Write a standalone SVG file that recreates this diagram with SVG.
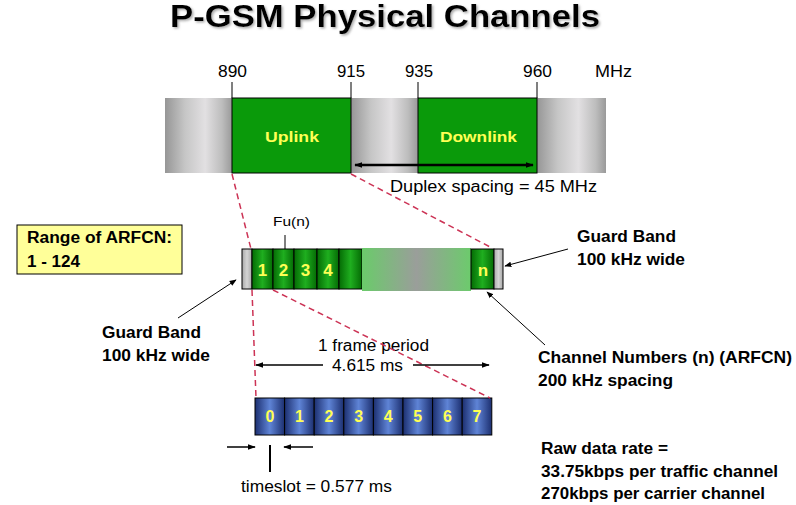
<svg xmlns="http://www.w3.org/2000/svg" width="796" height="505" viewBox="0 0 796 505">
<defs>
<style>
text{font-family:"Liberation Sans",Arial,sans-serif;fill:#000}
.b{font-weight:bold}
.y{fill:#ffff55;font-weight:bold}
.tick{stroke:#000;stroke-width:1}
.red{stroke:#cc3355;stroke-width:1.5;stroke-dasharray:6 4;fill:none}
.ln{stroke:#000;fill:none}
.cell{stroke:#000;stroke-width:1}
</style>
<linearGradient id="gray" x1="0" x2="1" y1="0" y2="0">
<stop offset="0" stop-color="#969696"/>
<stop offset="0.3" stop-color="#c6c6c6"/>
<stop offset="0.6" stop-color="#e2e0e2"/>
<stop offset="0.85" stop-color="#bdbdbd"/>
<stop offset="1" stop-color="#9a9a9a"/>
</linearGradient>
<linearGradient id="chan" x1="0" x2="1" y1="0" y2="0">
<stop offset="0" stop-color="#046b04"/>
<stop offset="0.5" stop-color="#1fae1f"/>
<stop offset="1" stop-color="#046b04"/>
</linearGradient>
<linearGradient id="mid" x1="0" x2="1" y1="0" y2="0">
<stop offset="0" stop-color="#6acb6a"/>
<stop offset="0.5" stop-color="#9a9e9a"/>
<stop offset="1" stop-color="#6ccb6c"/>
</linearGradient>
<linearGradient id="blue" x1="0" x2="1" y1="0" y2="0">
<stop offset="0" stop-color="#1c2f70"/>
<stop offset="0.5" stop-color="#5f84d6"/>
<stop offset="1" stop-color="#1c2f70"/>
</linearGradient>
<linearGradient id="gb" x1="0" x2="1" y1="0" y2="0">
<stop offset="0" stop-color="#a8a8a8"/>
<stop offset="0.5" stop-color="#d4d4d4"/>
<stop offset="1" stop-color="#a8a8a8"/>
</linearGradient>
<marker id="ah" viewBox="0 0 10 10" refX="9" refY="5" markerWidth="7" markerHeight="7" orient="auto-start-reverse" markerUnits="userSpaceOnUse">
<path d="M0,1 L10,5 L0,9 Z" fill="#000"/>
</marker>
<marker id="ahs" viewBox="0 0 10 10" refX="9" refY="5" markerWidth="8" markerHeight="8" orient="auto-start-reverse" markerUnits="userSpaceOnUse">
<path d="M0,1.5 L10,5 L0,8.5 Z" fill="#000"/>
</marker>
<filter id="sh" x="-5%" y="-20%" width="110%" height="150%">
<feDropShadow dx="1.5" dy="1.5" stdDeviation="0.8" flood-color="#888" flood-opacity="0.7"/>
</filter>
</defs>
<rect width="796" height="505" fill="#fff"/>

<g id="title">
<text x="170" y="27" class="b" font-size="31" textLength="430" lengthAdjust="spacingAndGlyphs" filter="url(#sh)">P-GSM Physical Channels</text>
</g>

<g id="band">
<rect x="165" y="98" width="67" height="75" fill="url(#gray)"/>
<rect x="351" y="98" width="67" height="75" fill="url(#gray)"/>
<rect x="537" y="98" width="69" height="75" fill="url(#gray)"/>
<rect id="uplink" x="232" y="98" width="119" height="75" fill="#0a9a0a" stroke="#000"/>
<rect id="downlink" x="418" y="98" width="119" height="75" fill="#0a9a0a" stroke="#000"/>
<text x="265" y="142" class="y" font-size="15.5" textLength="54" lengthAdjust="spacingAndGlyphs">Uplink</text>
<text x="440" y="142" class="y" font-size="15.5" textLength="77" lengthAdjust="spacingAndGlyphs">Downlink</text>
<line class="tick" x1="232" y1="82" x2="232" y2="98"/>
<line class="tick" x1="351" y1="82" x2="351" y2="98"/>
<line class="tick" x1="418" y1="82" x2="418" y2="98"/>
<line class="tick" x1="537" y1="82" x2="537" y2="98"/>
<text x="218" y="77" font-size="16" textLength="29" lengthAdjust="spacingAndGlyphs">890</text>
<text x="337" y="77" font-size="16" textLength="28" lengthAdjust="spacingAndGlyphs">915</text>
<text x="405" y="77" font-size="16" textLength="28" lengthAdjust="spacingAndGlyphs">935</text>
<text x="523" y="77" font-size="16" textLength="29" lengthAdjust="spacingAndGlyphs">960</text>
<text x="595" y="77" font-size="16" textLength="37" lengthAdjust="spacingAndGlyphs">MHz</text>
<text x="390" y="192" font-size="16" textLength="207" lengthAdjust="spacingAndGlyphs">Duplex spacing = 45 MHz</text>
</g>

<g id="arfcn-box">
<rect x="17" y="225" width="165" height="49" fill="#ffff99" stroke="#000"/>
<text x="27" y="243" class="b" font-size="16" textLength="145" lengthAdjust="spacingAndGlyphs">Range of ARFCN:</text>
<text x="27" y="267" class="b" font-size="16" textLength="53" lengthAdjust="spacingAndGlyphs">1 - 124</text>
</g>

<g id="channels">
<rect class="cell" x="242" y="249" width="10" height="40" fill="url(#gb)"/>
<rect class="cell" x="252" y="249" width="21" height="40" fill="url(#chan)"/>
<rect class="cell" x="273" y="249" width="21" height="40" fill="url(#chan)"/>
<rect class="cell" x="294" y="249" width="23" height="40" fill="url(#chan)"/>
<rect class="cell" x="317" y="249" width="22" height="40" fill="url(#chan)"/>
<rect class="cell" x="339" y="249" width="23" height="40" fill="url(#chan)"/>
<rect x="362" y="248" width="109" height="43" fill="url(#mid)"/>
<rect class="cell" x="471" y="249" width="23" height="40" fill="url(#chan)"/>
<rect class="cell" x="494" y="249" width="9" height="40" fill="url(#gb)"/>
<text x="262.5" y="276" class="y" font-size="17" text-anchor="middle">1</text>
<text x="283.5" y="276" class="y" font-size="17" text-anchor="middle">2</text>
<text x="305.5" y="276" class="y" font-size="17" text-anchor="middle">3</text>
<text x="328" y="276" class="y" font-size="17" text-anchor="middle">4</text>
<text x="483" y="276" class="y" font-size="17" text-anchor="middle">n</text>
<line class="ln" x1="285" y1="235" x2="285" y2="249"/>
<text x="273" y="226" font-size="13" textLength="37" lengthAdjust="spacingAndGlyphs">Fu(n)</text>
</g>

<g id="timeslots">
<rect class="cell" x="255" y="398" width="29.6" height="37" fill="url(#blue)"/>
<rect class="cell" x="284.6" y="398" width="29.6" height="37" fill="url(#blue)"/>
<rect class="cell" x="314.2" y="398" width="29.6" height="37" fill="url(#blue)"/>
<rect class="cell" x="343.8" y="398" width="29.6" height="37" fill="url(#blue)"/>
<rect class="cell" x="373.4" y="398" width="29.6" height="37" fill="url(#blue)"/>
<rect class="cell" x="403" y="398" width="29.6" height="37" fill="url(#blue)"/>
<rect class="cell" x="432.6" y="398" width="29.6" height="37" fill="url(#blue)"/>
<rect class="cell" x="462.2" y="398" width="29.6" height="37" fill="url(#blue)"/>
<text x="270" y="422" class="y" font-size="16" text-anchor="middle">0</text>
<text x="299.4" y="422" class="y" font-size="16" text-anchor="middle">1</text>
<text x="329" y="422" class="y" font-size="16" text-anchor="middle">2</text>
<text x="358.6" y="422" class="y" font-size="16" text-anchor="middle">3</text>
<text x="388.2" y="422" class="y" font-size="16" text-anchor="middle">4</text>
<text x="417.8" y="422" class="y" font-size="16" text-anchor="middle">5</text>
<text x="447.4" y="422" class="y" font-size="16" text-anchor="middle">6</text>
<text x="477" y="422" class="y" font-size="16" text-anchor="middle">7</text>
</g>

<g id="labels">
<text x="102" y="338" class="b" font-size="16.5" textLength="99" lengthAdjust="spacingAndGlyphs">Guard Band</text>
<text x="102" y="361" class="b" font-size="16.5" textLength="108" lengthAdjust="spacingAndGlyphs">100 kHz wide</text>
<text x="577" y="242" class="b" font-size="16.5" textLength="99" lengthAdjust="spacingAndGlyphs">Guard Band</text>
<text x="577" y="265" class="b" font-size="16.5" textLength="108" lengthAdjust="spacingAndGlyphs">100 kHz wide</text>
<text x="538" y="363" class="b" font-size="16.5" textLength="254" lengthAdjust="spacingAndGlyphs">Channel Numbers (n) (ARFCN)</text>
<text x="538" y="386" class="b" font-size="16.5" textLength="135" lengthAdjust="spacingAndGlyphs">200 kHz spacing</text>
<text x="541" y="454" class="b" font-size="16" textLength="127" lengthAdjust="spacingAndGlyphs">Raw data rate =</text>
<text x="541" y="477" class="b" font-size="16" textLength="237" lengthAdjust="spacingAndGlyphs">33.75kbps per traffic channel</text>
<text x="541" y="499" class="b" font-size="16" textLength="224" lengthAdjust="spacingAndGlyphs">270kbps per carrier channel</text>
<text x="318" y="351" font-size="16" textLength="111" lengthAdjust="spacingAndGlyphs">1 frame period</text>
<text x="332" y="371" font-size="16" textLength="71" lengthAdjust="spacingAndGlyphs">4.615 ms</text>
<text x="241" y="492" font-size="16" textLength="151" lengthAdjust="spacingAndGlyphs">timeslot = 0.577 ms</text>
</g>

<g id="connectors">
<line class="red" x1="232" y1="174" x2="251" y2="249"/>
<line class="red" x1="351" y1="174" x2="492" y2="248"/>
<line class="red" x1="252" y1="290" x2="256" y2="398"/>
<line class="red" x1="273" y1="290" x2="490" y2="398"/>
<line class="ln" stroke-width="2.5" x1="355" y1="165" x2="533" y2="165" marker-start="url(#ahs)" marker-end="url(#ahs)"/>
<line class="ln" stroke-width="1" x1="178" y1="318" x2="236" y2="280" marker-end="url(#ah)"/>
<line class="ln" stroke-width="1" x1="568" y1="249" x2="505" y2="266" marker-end="url(#ah)"/>
<line class="ln" stroke-width="1" x1="545" y1="345" x2="487" y2="292" marker-end="url(#ah)"/>
<line class="ln" stroke-width="1.5" x1="323" y1="365" x2="256" y2="365" marker-end="url(#ahs)"/>
<line class="ln" stroke-width="1.5" x1="413" y1="365" x2="489" y2="365" marker-end="url(#ahs)"/>
<line class="ln" stroke-width="1.5" x1="227" y1="447" x2="255" y2="447" marker-end="url(#ahs)"/>
<line class="ln" stroke-width="1.5" x1="313" y1="447" x2="284" y2="447" marker-end="url(#ahs)"/>
<line class="ln" stroke-width="2" x1="270" y1="445" x2="270" y2="472"/>
</g>
</svg>
